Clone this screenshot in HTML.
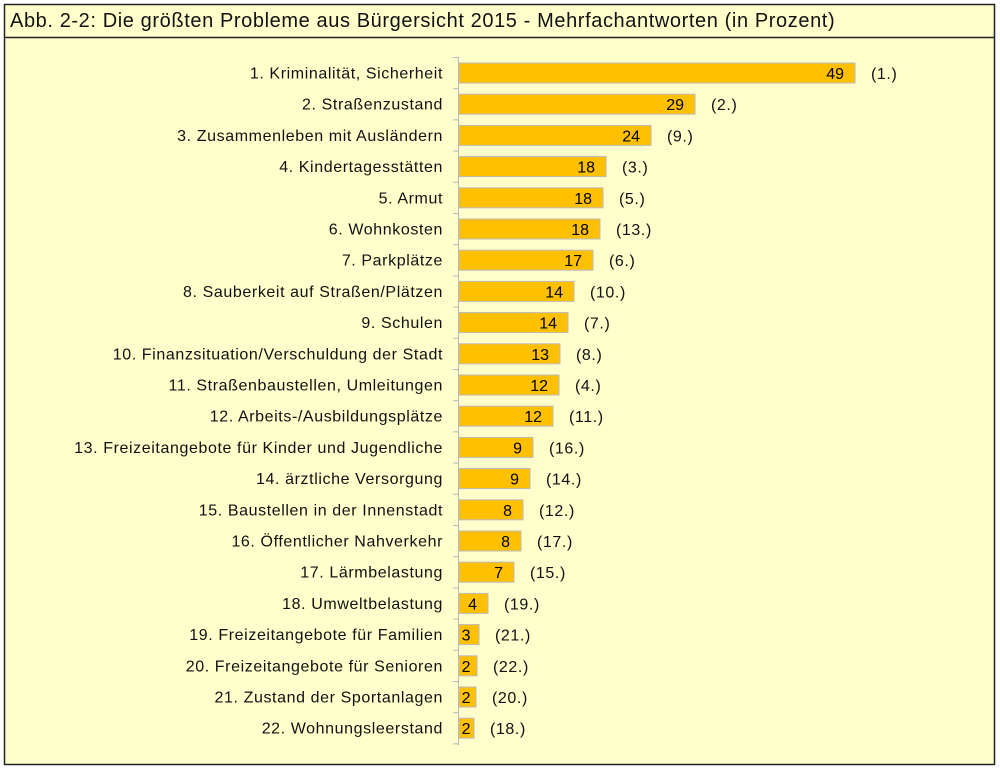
<!DOCTYPE html>
<html><head><meta charset="utf-8"><style>
html,body{margin:0;padding:0;background:#fff;}
svg{display:block;font-family:"Liberation Sans",Arial,sans-serif;}
</style></head><body>
<svg width="1000" height="770" xmlns="http://www.w3.org/2000/svg">
<rect x="4.5" y="4.5" width="990" height="760" fill="#ffffcc" stroke="#222" stroke-width="1.5"/>
<line x1="4" y1="37.5" x2="995" y2="37.5" stroke="#222" stroke-width="1.5"/>
<text x="10" y="27" font-size="20" letter-spacing="0.6" fill="#111">Abb. 2-2: Die größten Probleme aus Bürgersicht 2015 - Mehrfachantworten (in Prozent)</text>
<line x1="458.5" y1="58" x2="458.5" y2="745" stroke="#b8b8b8" stroke-width="1"/>
<g id="rows" font-size="16" letter-spacing="0.6" fill="#111"></g>
</svg>
<script>
var d=[["1. Kriminalität, Sicherheit",49,855,"(1.)"],["2. Straßenzustand",29,695,"(2.)"],["3. Zusammenleben mit Ausländern",24,651,"(9.)"],["4. Kindertagesstätten",18,606,"(3.)"],["5. Armut",18,603,"(5.)"],["6. Wohnkosten",18,600,"(13.)"],["7. Parkplätze",17,593,"(6.)"],["8. Sauberkeit auf Straßen/Plätzen",14,574,"(10.)"],["9. Schulen",14,568,"(7.)"],["10. Finanzsituation/Verschuldung der Stadt",13,560,"(8.)"],["11. Straßenbaustellen, Umleitungen",12,559,"(4.)"],["12. Arbeits-/Ausbildungsplätze",12,553,"(11.)"],["13. Freizeitangebote für Kinder und Jugendliche",9,533,"(16.)"],["14. ärztliche Versorgung",9,530,"(14.)"],["15. Baustellen in der Innenstadt",8,523,"(12.)"],["16. Öffentlicher Nahverkehr ",8,521,"(17.)"],["17. Lärmbelastung",7,514,"(15.)"],["18. Umweltbelastung",4,488,"(19.)"],["19. Freizeitangebote für Familien",3,479,"(21.)"],["20. Freizeitangebote für Senioren",2,477,"(22.)"],["21. Zustand der Sportanlagen",2,476,"(20.)"],["22. Wohnungsleerstand",2,474,"(18.)"]];
var g=document.getElementById('rows'),s='';
for(var i=0;i<d.length;i++){var t=63+i*31.2,c=t+10,r=d[i];
var tw=String(r[1]).length*9.5, te=r[2]-11; if(te-tw<461) te=461+tw;
s+='<line x1="453" x2="459" y1="'+(t-5.5)+'" y2="'+(t-5.5)+'" stroke="#b8b8b8"/>';
s+='<rect x="459" y="'+t+'" width="'+(r[2]-459)+'" height="20" fill="#ffc000" stroke="#bbb" stroke-width="1"/>';
s+='<text x="443" y="'+(c+5.5)+'" text-anchor="end">'+r[0]+'</text>';
s+='<text x="'+te+'" y="'+(c+6)+'" text-anchor="end" letter-spacing="0" fill="#000">'+r[1]+'</text>';
s+='<text x="'+(r[2]+16)+'" y="'+(c+6)+'">'+r[3]+'</text>';}
s+='<line x1="453" x2="459" y1="'+(63+22*31.2-5.5)+'" y2="'+(63+22*31.2-5.5)+'" stroke="#b8b8b8"/>';
g.innerHTML=s;
</script>
</body></html>
